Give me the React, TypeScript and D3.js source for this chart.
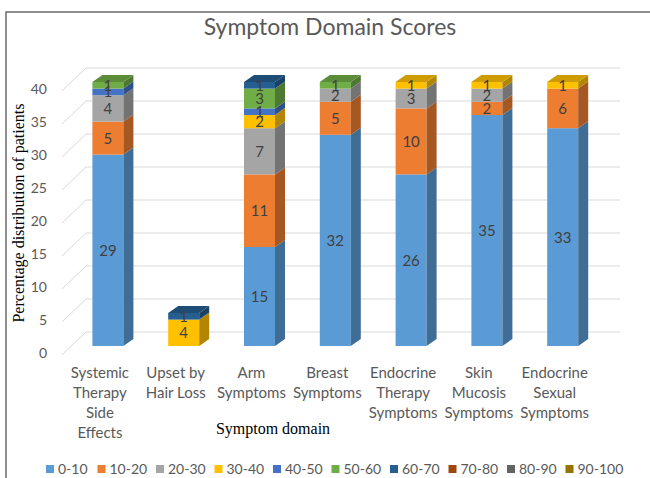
import React from "react";
import * as d3 from "d3";

// Chart values
const categories = [
  "Systemic Therapy Side Effects",
  "Upset by Hair Loss",
  "Arm Symptoms",
  "Breast Symptoms",
  "Endocrine Therapy Symptoms",
  "Skin Mucosis Symptoms",
  "Endocrine Sexual Symptoms",
];

const categoryLines = [
  ["Systemic", "Therapy", "Side", "Effects"],
  ["Upset by", "Hair Loss"],
  ["Arm", "Symptoms"],
  ["Breast", "Symptoms"],
  ["Endocrine", "Therapy", "Symptoms"],
  ["Skin", "Mucosis", "Symptoms"],
  ["Endocrine", "Sexual", "Symptoms"],
];

const seriesNames = ["0-10", "10-20", "20-30", "30-40", "40-50", "50-60", "60-70", "70-80", "80-90", "90-100"];

const s0_10 = [29, 0, 15, 32, 26, 35, 33];
const s10_20 = [5, 0, 11, 5, 10, 2, 6];
const s20_30 = [4, 0, 7, 2, 3, 2, 0];
const s30_40 = [0, 4, 2, 0, 1, 1, 1];
const s40_50 = [1, 0, 1, 0, 0, 0, 0];
const s50_60 = [1, 0, 3, 1, 0, 0, 0];
const s60_70 = [0, 1, 1, 0, 0, 0, 0];
const s70_80 = [0, 0, 0, 0, 0, 0, 0];
const s80_90 = [0, 0, 0, 0, 0, 0, 0];
const s90_100 = [0, 0, 0, 0, 0, 0, 0];

const yTicks = [0, 5, 10, 15, 20, 25, 30, 35, 40];

const colors = ["#5B9BD5", "#ED7D31", "#A5A5A5", "#FFC000", "#4472C4", "#70AD47", "#255E91", "#9E480E", "#636363", "#997300"];

const allSeries = [s0_10, s10_20, s20_30, s30_40, s40_50, s50_60, s60_70, s70_80, s80_90, s90_100];

const SANS = "Lato, 'Liberation Sans', sans-serif";
const SERIF = "'Liberation Serif', 'DejaVu Serif', serif";

export default function App() {
  const width = 650;
  const height = 478;

  const xScale = d3.scaleBand<string>().domain(categories).range([70, 600.6]);
  const yScale = d3.scaleLinear().domain([0, 40]).range([346, 82]);
  const colorScale = d3.scaleOrdinal<string, string>().domain(seriesNames).range(colors);

  // stack table
  const table = categories.map((c, i) => {
    const row: Record<string, number | string> = { cat: c };
    seriesNames.forEach((s, k) => (row[s] = allSeries[k][i]));
    return row;
  });
  const stacked = d3.stack<any>().keys(seriesNames)(table);

  const barW = 31;
  const dx = 10;
  const dy = -7;
  // back wall / side wall offsets
  const backDy = -14;
  const wallX0 = 62;
  const wallX1 = 86;
  const wallX2 = 620;

  const darker = (c: string, k: number) => d3.color(c)!.darker(k).formatHex();

  // legend layout
  let lx = 46;
  const legendItems = seriesNames.map((s) => {
    const digits = s.replace("-", "").length;
    const item = { name: s, x: lx };
    lx += 13 + digits * 7 + 4.5 + 13;
    return item;
  });

  return (
    <svg
      width={width}
      height={height}
      style={{ position: "absolute", left: 0, top: 0, background: "#fff" }}
    >
      <rect x={0} y={0} width={width} height={height} fill="#fff" />
      <rect x={6} y={12} width={700} height={600} fill="none" stroke="#6b6b6b" strokeWidth={1.5} />

      <text x={330} y={35} textAnchor="middle" fontFamily={SANS} fontSize={23} fill="#595959">
        Symptom Domain Scores
      </text>

      {/* gridlines: side wall diagonal + back wall */}
      {yTicks.map((t) => (
        <g key={t}>
          <line
            x1={wallX0}
            y1={yScale(t) + 9}
            x2={wallX1}
            y2={yScale(t) + backDy}
            stroke="#d9d9d9"
            strokeWidth={1}
          />
          <line
            x1={wallX1}
            y1={yScale(t) + backDy}
            x2={wallX2}
            y2={yScale(t) + backDy}
            stroke="#d9d9d9"
            strokeWidth={1}
          />
          <text
            x={47}
            y={yScale(t) + 7}
            dy="0.35em"
            textAnchor="end"
            fontFamily={SANS}
            fontSize={14}
            fill="#595959"
          >
            {t}
          </text>
        </g>
      ))}

      {/* bars */}
      {categories.map((c, i) => {
        const x0 = xScale(c)! + xScale.bandwidth() / 2 - barW / 2;
        const segs = stacked
          .map((layer) => ({ key: layer.key, y0: layer[i][0], y1: layer[i][1] }))
          .filter((s) => s.y1 - s.y0 > 0);
        const top = segs[segs.length - 1];
        return (
          <g key={c}>
            {segs.map((s) => {
              const col = colorScale(s.key);
              const yb = yScale(s.y0);
              const yt = yScale(s.y1);
              return (
                <g key={s.key}>
                  <rect x={x0} y={yt} width={barW} height={yb - yt} fill={col} />
                  <polygon
                    points={`${x0 + barW},${yb} ${x0 + barW + dx},${yb + dy} ${x0 + barW + dx},${yt + dy} ${x0 + barW},${yt}`}
                    fill={darker(col, 1)}
                  />
                </g>
              );
            })}
            {top && (
              <polygon
                points={`${x0},${yScale(top.y1)} ${x0 + dx},${yScale(top.y1) + dy} ${x0 + barW + dx},${yScale(top.y1) + dy} ${x0 + barW},${yScale(top.y1)}`}
                fill={darker(colorScale(top.key), 0.6)}
              />
            )}
            {segs.map((s) => (
              <text
                key={"l" + s.key}
                x={x0 + barW / 2}
                y={(yScale(s.y0) + yScale(s.y1)) / 2}
                dy="0.36em"
                textAnchor="middle"
                fontFamily={SANS}
                fontSize={15}
                fill="#404040"
              >
                {s.y1 - s.y0}
              </text>
            ))}
          </g>
        );
      })}

      {/* category labels */}
      {categories.map((c, i) => (
        <text
          key={"c" + c}
          x={xScale(c)! + xScale.bandwidth() / 2 - 8}
          y={378}
          textAnchor="middle"
          fontFamily={SANS}
          fontSize={15}
          fill="#595959"
        >
          {categoryLines[i].map((ln, k) => (
            <tspan key={k} x={xScale(c)! + xScale.bandwidth() / 2 - 8} dy={k === 0 ? 0 : 20}>
              {ln}
            </tspan>
          ))}
        </text>
      ))}

      <text x={273} y={434} textAnchor="middle" fontFamily={SERIF} fontSize={16} fill="#000">
        Symptom domain
      </text>

      <text
        transform={`translate(24,213) rotate(-90)`}
        textAnchor="middle"
        fontFamily={SERIF}
        fontSize={16}
        fill="#000"
      >
        Percentage distribution of patients
      </text>

      {/* legend */}
      {legendItems.map((it) => (
        <g key={it.name}>
          <rect x={it.x} y={465} width={8} height={8} fill={colorScale(it.name)} />
          <text x={it.x + 12} y={469} dy="0.35em" fontFamily={SANS} fontSize={14} fill="#595959">
            {it.name}
          </text>
        </g>
      ))}
    </svg>
  );
}
